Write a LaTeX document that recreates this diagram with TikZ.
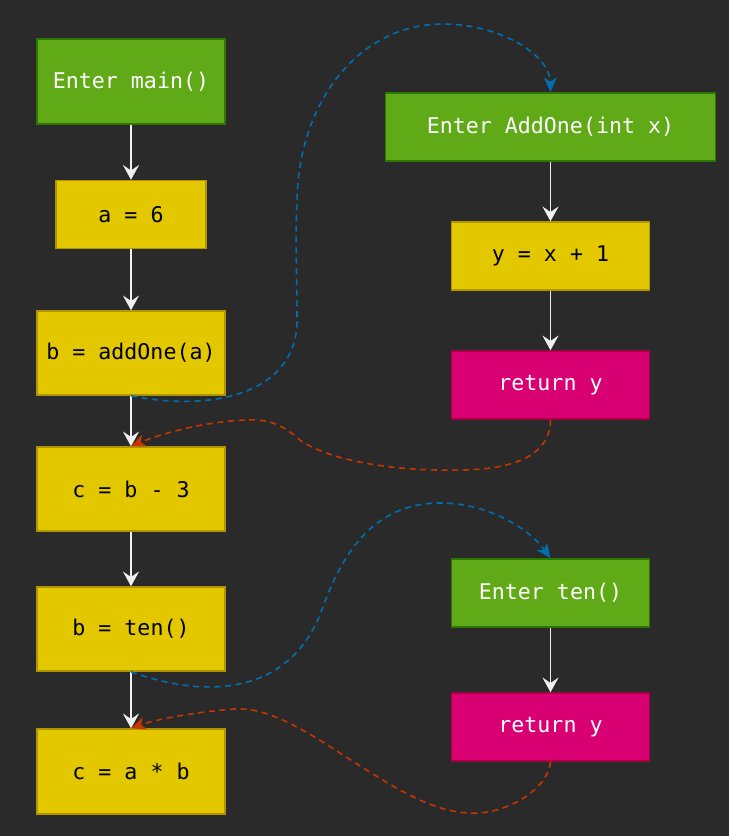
\documentclass[tikz,border=0pt]{standalone}
\usepackage{fontspec}
\setmonofont{DejaVu Sans Mono}
\usetikzlibrary{arrows.meta}
\definecolor{bg}{HTML}{2A2A2A}
\definecolor{gfill}{HTML}{60A917}
\definecolor{gline}{HTML}{2D7600}
\definecolor{yfill}{HTML}{E3C800}
\definecolor{yline}{HTML}{B09500}
\definecolor{mfill}{HTML}{D80073}
\definecolor{mline}{HTML}{A50040}
\definecolor{callc}{HTML}{006EAF}
\definecolor{retc}{HTML}{C73500}
\definecolor{flowc}{HTML}{F0F0F0}
\tikzset{
  box/.style={draw, line width=1.1pt, inner sep=0pt, font=\ttfamily\fontsize{16.2}{19}\selectfont},
  entrybox/.style={box, fill=gfill, draw=gline, text=white},
  stmtbox/.style={box, fill=yfill, draw=yline, text=black},
  retbox/.style={box, fill=mfill, draw=mline, text=white},
  flow/.style={draw=flowc, line width=1.25pt, -{Stealth[length=11pt, width=12pt, inset=4pt]}},
  callarrow/.style={draw=callc, line width=1.2pt, dash pattern=on 4.5pt off 3.5pt, -{Stealth[length=11pt, width=9.5pt, inset=3pt]}},
  retarrow/.style={draw=retc, line width=1.2pt, dash pattern=on 4.5pt off 3.5pt, -{Stealth[length=11pt, width=9.5pt, inset=3pt]}},
}
\begin{document}
\begin{tikzpicture}[x=0.75pt, y=-0.75pt]
\fill[bg] (0,0) rectangle (729,836);
\useasboundingbox (0,0) rectangle (729,836);

% left column
\node[entrybox, minimum width=141pt, minimum height=63.75pt] (main) at (131,81.5) {Enter main()};
\node[stmtbox, minimum width=112.5pt, minimum height=51pt] (a6) at (131,214.5) {a = 6};
\node[stmtbox, minimum width=141pt, minimum height=63pt] (bcall) at (131,353) {b = addOne(a)};
\node[stmtbox, minimum width=141pt, minimum height=63pt] (cb3) at (131,489) {c = b - 3};
\node[stmtbox, minimum width=141pt, minimum height=63pt] (bten) at (131,629) {b = ten()};
\node[stmtbox, minimum width=141pt, minimum height=63.75pt] (cab) at (131,771.5) {c = a * b};

% right column
\node[entrybox, minimum width=247.5pt, minimum height=51pt] (addone) at (550.5,127) {Enter AddOne(int x)};
\node[stmtbox, minimum width=148.5pt, minimum height=51pt] (yx1) at (550.5,256) {y = x + 1};
\node[retbox, minimum width=148.5pt, minimum height=51pt] (ret1) at (550.5,385) {return y};
\node[entrybox, minimum width=148.5pt, minimum height=51pt] (ten) at (550.5,593) {Enter ten()};
\node[retbox, minimum width=148.5pt, minimum height=51pt] (ret2) at (550.5,727) {return y};

% flow arrows
\draw[flow] (main) -- (a6);
\draw[flow] (a6) -- (bcall);
\draw[flow] (bcall) -- (cb3);
\draw[flow] (cb3) -- (bten);
\draw[flow] (bten) -- (cab);
\draw[flow] (addone) -- (yx1);
\draw[flow] (yx1) -- (ret1);
\draw[flow] (ten) -- (ret2);

% call 1
\draw[callarrow] (bcall.south) .. controls (210,412) and (297,395) .. (297,320)
  .. controls (297,270) and (295,240) .. (297,200) .. controls (299,100) and (360,24) .. (443,24)
  .. controls (500,24) and (550,55) .. (addone.north);
% return 1
\draw[retarrow] (ret1.south) .. controls (550,470) and (480,471) .. (437,470)
  .. controls (380,469) and (325,458) .. (300,440)
  .. controls (282,424) and (268,419) .. (247,420)
  .. controls (210,421) and (165,432) .. (cb3.north);
% call 2
\draw[callarrow] (bten.south) .. controls (200,697) and (290,700) .. (323,607)
  .. controls (340,560) and (370,503) .. (440,503)
  .. controls (490,503) and (530,530) .. (ten.north);
% return 2
\draw[retarrow] (ret2.south) .. controls (548,790) and (505,815) .. (470,813)
  .. controls (430,812) and (390,785) .. (340,753)
  .. controls (300,727) and (265,707) .. (235,709)
  .. controls (205,711) and (160,718) .. (cab.north);
\end{tikzpicture}
\end{document}
